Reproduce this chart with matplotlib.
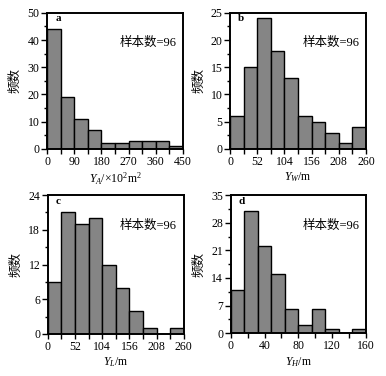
import numpy as np
import matplotlib
matplotlib.use('Agg')
import matplotlib.pyplot as plt
from matplotlib.ticker import MultipleLocator

plt.rcParams['font.family'] = ['Liberation Serif', 'Noto Sans CJK SC']
plt.rcParams['mathtext.fontset'] = 'custom'
plt.rcParams['mathtext.rm'] = 'Liberation Serif'
plt.rcParams['mathtext.it'] = 'Liberation Serif:italic'

# histogram counts
counts_a = [44, 19, 11, 7, 2, 2, 3, 3, 3, 1]   # Y_A, bin 45
counts_b = [6, 15, 24, 18, 13, 6, 5, 3, 1, 4]  # Y_W, bin 26
counts_c = [9, 21, 19, 20, 12, 8, 4, 1, 0, 1]  # Y_L, bin 26
counts_d = [11, 31, 22, 15, 6, 2, 6, 1, 0, 1]  # Y_H, bin 16

bin_a, bin_b, bin_c, bin_d = 45, 26, 26, 16

panels = [
    # letter, counts, bin, xmax, xmajor, ymax, ymajor, xlabel, axes rect
    ('a', counts_a, bin_a, 450, 90, 50, 10, r'$Y_A$/×10$^2$m$^2$',
     [0.122, 0.604, 0.352, 0.362]),
    ('b', counts_b, bin_b, 260, 52, 25, 5, r'$Y_W$/m',
     [0.596, 0.604, 0.352, 0.362]),
    ('c', counts_c, bin_c, 260, 52, 24, 6, r'$Y_L$/m',
     [0.124, 0.112, 0.352, 0.369]),
    ('d', counts_d, bin_d, 160, 40, 35, 7, r'$Y_H$/m',
     [0.598, 0.114, 0.350, 0.367]),
]

fig = plt.figure(figsize=(3.86, 3.76), dpi=100)

for letter, counts, width, xmax, xmajor, ymax, ymajor, xlabel, rect in panels:
    ax = fig.add_axes(rect)
    left = np.arange(len(counts)) * width
    ax.bar(left, counts, width=width, align='edge', color='#858585',
           edgecolor='black', linewidth=1.0)
    ax.set_xlim(0, xmax)
    ax.set_ylim(0, ymax)
    ax.xaxis.set_major_locator(MultipleLocator(xmajor))
    ax.xaxis.set_minor_locator(MultipleLocator(xmajor / 2))
    ax.yaxis.set_major_locator(MultipleLocator(ymajor))
    ax.yaxis.set_minor_locator(MultipleLocator(ymajor / 2))
    ax.tick_params(which='both', direction='out', width=1.0, labelsize=8.5,
                   top=False, right=False, pad=1.5)
    ax.tick_params(axis='y', which='major', length=4)
    ax.tick_params(axis='y', which='minor', length=2.5)
    ax.tick_params(axis='x', which='both', length=3.5)
    for s in ax.spines.values():
        s.set_linewidth(1.4)
    ax.set_xlabel(xlabel, fontsize=8.5, labelpad=2)
    ax.set_ylabel('频数', fontsize=9, labelpad=4)
    ax.text(0.06, 0.955, letter, transform=ax.transAxes, fontsize=8,
            fontweight='bold', ha='left', va='center')
    ax.text(0.95, 0.78, '样本数=96', transform=ax.transAxes, fontsize=9,
            ha='right', va='center')

plt.savefig('out.png', dpi=100)
